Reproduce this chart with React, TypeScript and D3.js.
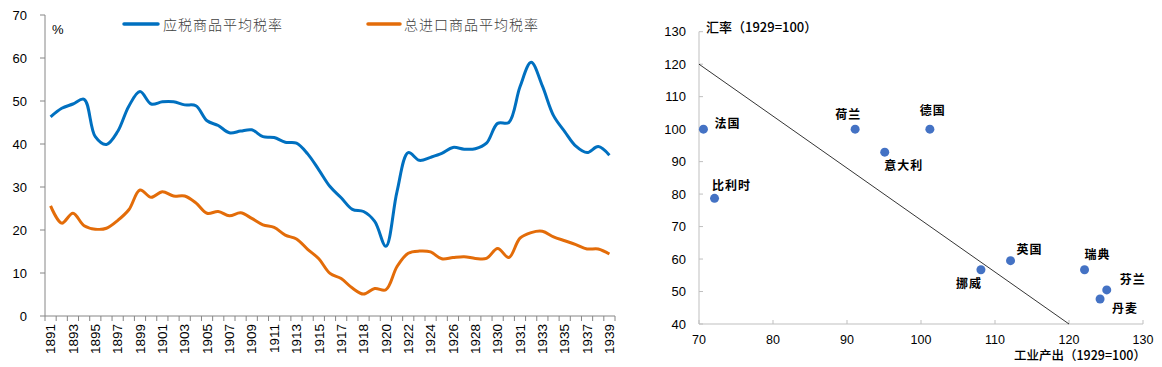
import { useRef, useEffect } from 'react';
import * as d3 from 'd3';

// left chart: tariff rates, category axis (two years appear twice in the source table)
const years = [
  '1891', '1892', '1893', '1894', '1895', '1896', '1897', '1898', '1899', '1900',
  '1901', '1902', '1903', '1904', '1905', '1906', '1907', '1908', '1909', '1910',
  '1911', '1912', '1913', '1914', '1915', '1916', '1917', '1917', '1918', '1919',
  '1920', '1921', '1922', '1923', '1924', '1925', '1926', '1927', '1928', '1929',
  '1930', '1930', '1931', '1932', '1933', '1934', '1935', '1936', '1937', '1938', '1939',
];
const dutiableRate = [
  46.3, 48.3, 49.3, 50.4, 41.7, 39.9, 42.9, 48.8, 52.2, 49.3,
  49.8, 49.8, 49.1, 48.9, 45.4, 44.3, 42.6, 43.0, 43.3, 41.7,
  41.5, 40.4, 40.2, 37.7, 34.0, 30.1, 27.5, 24.8, 24.3, 22.0,
  16.2, 29.0, 38.0, 36.2, 36.9, 37.8, 39.2, 38.8, 38.9, 40.2,
  44.8, 45.0, 53.3, 59.0, 53.5, 46.6, 42.9, 39.5, 38.0, 39.4, 37.4,
];
const totalRate = [
  25.6, 21.6, 23.9, 21.0, 20.2, 20.4, 22.2, 24.7, 29.3, 27.6,
  28.9, 27.9, 27.9, 26.3, 23.9, 24.3, 23.3, 24.0, 22.7, 21.2,
  20.6, 18.8, 17.9, 15.5, 13.3, 9.9, 8.7, 6.5, 5.1, 6.4,
  6.1, 11.5, 14.6, 15.1, 14.9, 13.3, 13.6, 13.8, 13.4, 13.4,
  15.7, 13.6, 18.1, 19.4, 19.7, 18.4, 17.5, 16.6, 15.6, 15.6, 14.4,
];
const seriesNames = ['应税商品平均税率', '总进口商品平均税率'];
const leftTicks = [0, 10, 20, 30, 40, 50, 60, 70];

// right chart: industrial output vs exchange rate
const countries = ['法国', '荷兰', '德国', '意大利', '比利时', '挪威', '英国', '瑞典', '芬兰', '丹麦'];
const output = [70.6, 91.1, 101.2, 95.1, 72.1, 108.1, 112.1, 122.1, 125.1, 124.2];
const exchange = [100, 100, 100, 92.9, 78.7, 56.7, 59.5, 56.7, 50.5, 47.7];
const trendX = [70, 120];
const trendY = [120, 40];
const xTicks = [70, 80, 90, 100, 110, 120, 130];
const yTicks = [40, 50, 60, 70, 80, 90, 100, 110, 120, 130];

// label offsets from each dot, in px
const labelDx = [24, -7, 3, 19, 17, -12, 19, 13, 26, 25];
const labelDy = [-5, -14, -18, 14, -13, 14, -11, -15, -10, 10];

const BLUE = '#0070C0';
const ORANGE = '#E36C09';
const NUM_FONT = '"Liberation Sans", Arial, sans-serif';
const CJK_FONT = '"Noto Sans CJK SC", sans-serif';

export default function App() {
  const svgRef = useRef<SVGSVGElement>(null);

  useEffect(() => {
    const svg = d3.select(svgRef.current);
    svg.selectAll('*').remove();

    // ---------- left line chart ----------
    const L = { left: 45, right: 615, top: 15, bottom: 316 };
    const x = d3.scaleBand<number>().domain(d3.range(years.length)).range([L.left, L.right]);
    const y = d3.scaleLinear().domain([0, 70]).range([L.bottom, L.top]);
    const left = svg.append('g');

    left.append('line').attr('x1', L.left).attr('x2', L.left).attr('y1', L.top).attr('y2', L.bottom)
      .attr('stroke', '#868686');
    left.selectAll('.yt').data(leftTicks).enter().append('line')
      .attr('x1', L.left - 5).attr('x2', L.left).attr('y1', d => y(d)).attr('y2', d => y(d))
      .attr('stroke', '#868686');
    left.selectAll('.yl').data(leftTicks).enter().append('text')
      .attr('x', 27).attr('y', d => y(d)).attr('dy', '0.35em').attr('text-anchor', 'end')
      .attr('font-family', NUM_FONT).attr('font-size', 13).attr('fill', '#000').text(d => d);

    left.append('line').attr('x1', L.left).attr('x2', L.right).attr('y1', L.bottom).attr('y2', L.bottom)
      .attr('stroke', '#868686');
    const bounds = d3.range(years.length + 1).map(i => L.left + i * x.step());
    left.selectAll('.xt').data(bounds).enter().append('line')
      .attr('x1', d => d).attr('x2', d => d).attr('y1', L.bottom).attr('y2', L.bottom + 5)
      .attr('stroke', '#868686');
    left.selectAll('.xl').data(years.map((yr, i) => ({ yr, i })).filter(d => d.i % 2 === 0)).enter()
      .append('text')
      .attr('transform', d => `translate(${x(d.i)! + x.bandwidth() / 2},${L.bottom + 8}) rotate(-90)`)
      .attr('dy', '0.35em').attr('text-anchor', 'end')
      .attr('font-family', NUM_FONT).attr('font-size', 13.5).attr('fill', '#000').text(d => d.yr);

    left.append('text').attr('x', 52).attr('y', 29).attr('dy', '0.35em')
      .attr('font-family', NUM_FONT).attr('font-size', 13).text('%');

    const line = d3.line<number>()
      .x((_, i) => x(i)! + x.bandwidth() / 2)
      .y(d => y(d))
      .curve(d3.curveCatmullRom);
    [[dutiableRate, BLUE], [totalRate, ORANGE]].forEach(([vals, col]) => {
      left.append('path').attr('d', line(vals as number[])).attr('fill', 'none')
        .attr('stroke', col as string).attr('stroke-width', 3).attr('stroke-linejoin', 'round');
    });

    // legend
    const legend = [
      { x1: 124, x2: 158, tx: 163, col: BLUE },
      { x1: 368, x2: 400, tx: 404, col: ORANGE },
    ];
    legend.forEach((lg, i) => {
      left.append('line').attr('x1', lg.x1).attr('x2', lg.x2).attr('y1', 24).attr('y2', 24)
        .attr('stroke', lg.col).attr('stroke-width', 3.5).attr('stroke-linecap', 'round');
      left.append('text').attr('x', lg.tx).attr('y', 25).attr('dy', '0.35em')
        .attr('font-family', CJK_FONT).attr('font-weight', 300).attr('font-size', 14)
        .attr('letter-spacing', 1).attr('fill', '#404040').text(seriesNames[i]);
    });

    // ---------- right scatter ----------
    const R = { left: 699, right: 1143, top: 31.7, bottom: 324 };
    const sx = d3.scaleLinear().domain([70, 130]).range([R.left, R.right]);
    const sy = d3.scaleLinear().domain([40, 130]).range([R.bottom, R.top]);
    const right = svg.append('g');
    const axisCol = '#BFBFBF';

    right.append('line').attr('x1', R.left).attr('x2', R.left).attr('y1', R.top).attr('y2', R.bottom)
      .attr('stroke', axisCol);
    right.append('line').attr('x1', R.left).attr('x2', R.right).attr('y1', R.bottom).attr('y2', R.bottom)
      .attr('stroke', axisCol);
    right.selectAll('.syt').data(yTicks).enter().append('line')
      .attr('x1', R.left).attr('x2', R.left + 4).attr('y1', d => sy(d)).attr('y2', d => sy(d))
      .attr('stroke', axisCol);
    right.selectAll('.sxt').data(xTicks).enter().append('line')
      .attr('x1', d => sx(d)).attr('x2', d => sx(d)).attr('y1', R.bottom - 4).attr('y2', R.bottom)
      .attr('stroke', axisCol);
    right.selectAll('.syl').data(yTicks).enter().append('text')
      .attr('x', 686).attr('y', d => sy(d)).attr('dy', '0.35em').attr('text-anchor', 'end')
      .attr('font-family', NUM_FONT).attr('font-size', 13).attr('fill', '#000').text(d => d);
    right.selectAll('.sxl').data(xTicks).enter().append('text')
      .attr('x', d => sx(d)).attr('y', 340).attr('dy', '0.35em').attr('text-anchor', 'middle')
      .attr('font-family', NUM_FONT).attr('font-size', 12.5).attr('fill', '#000').text(d => d);

    right.append('text').attr('x', 706).attr('y', 27).attr('dy', '0.35em')
      .attr('font-family', CJK_FONT).attr('font-weight', 500).attr('font-size', 13).text('汇率（1929=100）');
    right.append('text').attr('x', 1146).attr('y', 356).attr('dy', '0.35em').attr('text-anchor', 'end')
      .attr('font-family', CJK_FONT).attr('font-weight', 500).attr('font-size', 12.5).text('工业产出（1929=100）');

    right.append('line')
      .attr('x1', sx(trendX[0])).attr('y1', sy(trendY[0]))
      .attr('x2', sx(trendX[1])).attr('y2', sy(trendY[1]))
      .attr('stroke', '#000').attr('stroke-width', 0.8);

    right.selectAll('circle').data(countries).enter().append('circle')
      .attr('cx', (_, i) => sx(output[i])).attr('cy', (_, i) => sy(exchange[i]))
      .attr('r', 4.5).attr('fill', '#4472C4');
    right.selectAll('.pl').data(countries).enter().append('text')
      .attr('x', (_, i) => sx(output[i]) + labelDx[i]).attr('y', (_, i) => sy(exchange[i]) + labelDy[i])
      .attr('dy', '0.35em').attr('text-anchor', 'middle')
      .attr('font-family', CJK_FONT).attr('font-weight', 700).attr('font-size', 12)
      .attr('letter-spacing', 1).attr('fill', '#000').text(d => d);
  }, []);

  return (
    <svg ref={svgRef} width={1162} height={367}
      style={{ position: 'absolute', left: 0, top: 0, background: '#fff' }} />
  );
}
